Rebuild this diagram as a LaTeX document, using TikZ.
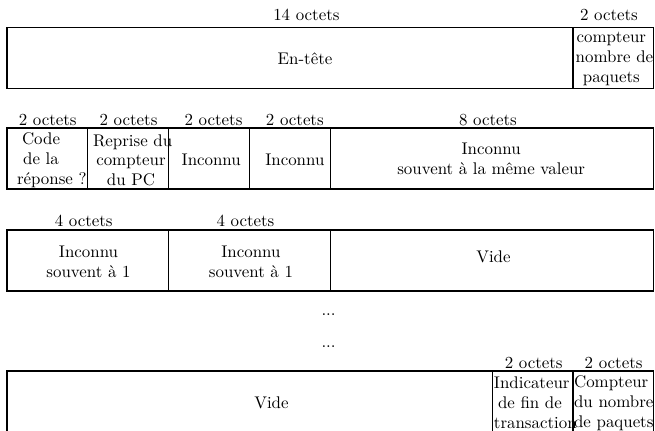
\documentclass[tikz,border=0pt]{standalone}
\usepackage{amsmath}
\usepackage{tikz}
\usetikzlibrary{positioning}
\usetikzlibrary{calc}

\hyphenpenalty=10000

\begin{document}
\begin{tikzpicture}[scale=1.0, transform shape]
 \coordinate (origo) at (0,0);
 \useasboundingbox (-0.152,0) rectangle (14.026,-9.329);

\tikzstyle{octets}=[inner sep=0pt,font=\fontsize{10.4pt}{12.3pt}\selectfont]
\tikzstyle{champ}=[inner sep=0pt,align=center,font=\fontsize{10.4pt}{12.3pt}\selectfont]
\tikzstyle{cadre}=[line width=0.7pt]

   %draw header row
    \draw [cadre] (0,-0.595) rectangle (14,-1.915);
    \draw [cadre] (12.25,-0.595) -- (12.25,-1.915);
    \node (lbl14) [octets] at (6.48,-0.325) {14 octets};
    \node (lblcpt) [octets] at (13.03,-0.325) {2 octets};
    \node (entete) [champ] at (6.45,-1.277) {En-tête};
    \node (cptnb) [champ,text width=1.54cm] at (13.08,-1.28) {compteur\\nombre~de\\paquets};

   %draw second row
    \draw [cadre] (0,-2.77) rectangle (14,-4.09);
    \foreach \x in {1.75,3.5,5.25,7}
        \draw [cadre] (\x,-2.77) -- (\x,-4.09);
    \foreach \x/\n in {0.88/lblcode,2.63/lblrep,4.47/lblinca,6.23/lblincb}
        \node (\n) [octets] at (\x,-2.597) {2 octets};
    \node (lblval) [octets] at (10.41,-2.597) {8 octets};
    \node (code) [champ,text width=1.04cm] at (0.736,-3.47) {Code\\de la\\réponse~?};
    \node (reprise) [champ,text width=1.645cm] at (2.684,-3.47) {Reprise~du\\compteur\\du PC};
    \node (inca) [champ] at (4.42,-3.46) {Inconnu};
    \node (incb) [champ] at (6.23,-3.46) {Inconnu};
    \node (incval) [champ] at (10.48,-3.43) {Inconnu\\souvent à la même valeur};

   %draw third row
    \draw [cadre] (0,-4.98) rectangle (14,-6.30);
    \draw [cadre] (3.5,-4.98) -- (3.5,-6.30);
    \draw [cadre] (7,-4.98) -- (7,-6.30);
    \node (lblincc) [octets] at (1.66,-4.78) {4 octets};
    \node (lblincd) [octets] at (5.16,-4.78) {4 octets};
    \node (incc) [champ] at (1.764,-5.66) {Inconnu\\souvent à 1};
    \node (incd) [champ] at (5.28,-5.66) {Inconnu\\souvent à 1};
    \node (videa) [champ] at (10.53,-5.57) {Vide};

    %\node (suite) at (7,-7) {...};
    \node (pointsa) [octets] at (6.96,-6.80) {...};
    \node (pointsb) [octets] at (6.96,-7.51) {...};

   %draw last row
    \draw [cadre] (0,-8.03) rectangle (14,-9.35);
    \draw [cadre] (10.5,-8.03) -- (10.5,-9.35);
    \draw [cadre] (12.25,-8.03) -- (12.25,-9.35);
    \node (lblfin) [octets] at (11.40,-7.857) {2 octets};
    \node (lblcptfin) [octets] at (13.13,-7.857) {2 octets};
    \node (videb) [champ] at (5.725,-8.72) {Vide};
    \node (indic) [champ,text width=1.56cm] at (11.32,-8.72) {Indicateur\\de fin de\\transaction};
    \node (cptfin) [champ,text width=1.55cm] at (13.05,-8.72) {Compteur\\du~nombre\\de~paquets};

\end{tikzpicture}
\end{document}
